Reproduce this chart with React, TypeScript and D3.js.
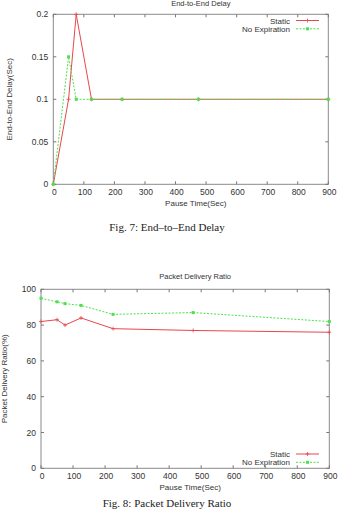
import React, { useEffect, useRef } from 'react'
import * as d3 from 'd3'

// pause time (sec) for each run
const delayX = [0, 50, 75, 125, 225, 475, 900]
const delayStatic = [0, 0.1, 0.2, 0.1, 0.1, 0.1, 0.1]
const delayNoExp = [0, 0.15, 0.1, 0.1, 0.1, 0.1, 0.1]
const delayTicks = [0, 0.05, 0.1, 0.15, 0.2]

const pdrX = [0, 50, 75, 125, 225, 475, 900]
const pdrStatic = [82, 83, 80, 84, 78, 77, 76]
const pdrNoExp = [95, 93, 92, 91, 86, 87, 82]
const pdrTicks = [0, 20, 40, 60, 80, 100]

const xTicks = [0, 100, 200, 300, 400, 500, 600, 700, 800, 900]
const seriesNames = ['Static', 'No Expiration']

const RED = '#e8474c'
const GREEN = '#4ee04e'
const FONT = 'Liberation Sans, Arial, sans-serif'

function drawChart(svg, o) {
  const g = svg.append('g')
  const x = d3.scaleLinear().domain([0, 900]).range([o.left, o.right])
  const y = d3.scaleLinear().domain(o.yDomain).range([o.bottom, o.top])

  g.append('rect').attr('x', o.left).attr('y', o.top)
    .attr('width', o.right - o.left).attr('height', o.bottom - o.top)
    .attr('fill', 'none').attr('stroke', '#8a8a8a').attr('stroke-width', 1)

  // ticks inside, mirrored
  xTicks.forEach(t => {
    g.append('line').attr('x1', x(t)).attr('x2', x(t)).attr('y1', o.bottom).attr('y2', o.bottom - 3).attr('stroke', '#777')
    g.append('line').attr('x1', x(t)).attr('x2', x(t)).attr('y1', o.top).attr('y2', o.top + 3).attr('stroke', '#777')
    g.append('text').attr('x', x(t) + 1).attr('y', o.bottom + 11).attr('text-anchor', 'middle')
      .attr('font-size', 8.5).attr('font-family', FONT).attr('fill', '#333').text(t)
  })
  o.yTicks.forEach(t => {
    g.append('line').attr('x1', o.left).attr('x2', o.left + 3).attr('y1', y(t)).attr('y2', y(t)).attr('stroke', '#777')
    g.append('line').attr('x1', o.right).attr('x2', o.right - 3).attr('y1', y(t)).attr('y2', y(t)).attr('stroke', '#777')
    g.append('text').attr('x', o.left - 5).attr('y', y(t) + 3).attr('text-anchor', 'end')
      .attr('font-size', 8.5).attr('font-family', FONT).attr('fill', '#333').text(t)
  })

  g.append('text').attr('x', (o.left + o.right) / 2 + 10).attr('y', o.titleY).attr('text-anchor', 'middle')
    .attr('font-size', 7.5).attr('font-family', FONT).attr('fill', '#333').text(o.title)
  g.append('text').attr('x', (o.left + o.right) / 2 + 5).attr('y', o.bottom + 22).attr('text-anchor', 'middle')
    .attr('font-size', 8).attr('font-family', FONT).attr('fill', '#333').text('Pause Time(Sec)')
  g.append('text').attr('transform', `translate(${o.yLabelX},${(o.top + o.bottom) / 2}) rotate(-90)`)
    .attr('text-anchor', 'middle').attr('font-size', 8).attr('font-family', FONT).attr('fill', '#333').text(o.yLabel)

  const line = d3.line().x(d => x(d[0])).y(d => y(d[1]))
  const s1 = o.xs.map((v, i) => [v, o.a[i]])
  const s2 = o.xs.map((v, i) => [v, o.b[i]])

  g.append('path').attr('d', line(s1)).attr('fill', 'none').attr('stroke', RED).attr('stroke-width', 1)
  s1.forEach(d => {
    g.append('path').attr('d', `M${x(d[0]) - 2},${y(d[1])}h4M${x(d[0])},${y(d[1]) - 2}v4`).attr('stroke', RED).attr('stroke-width', 0.8)
  })
  g.append('path').attr('d', line(s2)).attr('fill', 'none').attr('stroke', GREEN).attr('stroke-width', 1).attr('stroke-dasharray', o.overlap ? null : '2,1.5')
  s2.forEach(d => {
    g.append('rect').attr('x', x(d[0]) - 1.5).attr('y', y(d[1]) - 1.5).attr('width', 3).attr('height', 3).attr('fill', GREEN)
  })

  // legend
  seriesNames.forEach((n, i) => {
    const ly = o.legendY + i * 8.3
    g.append('text').attr('x', 290).attr('y', ly + 3).attr('text-anchor', 'end')
      .attr('font-size', 8).attr('font-family', FONT).attr('fill', '#333').text(n)
    g.append('line').attr('x1', 296).attr('x2', 319).attr('y1', ly).attr('y2', ly)
      .attr('stroke', i === 0 ? RED : GREEN).attr('stroke-dasharray', i === 0 ? null : '2,1.5')
    if (i === 0) g.append('path').attr('d', `M305.5,${ly}h4M307.5,${ly - 2}v4`).attr('stroke', RED).attr('stroke-width', 0.8)
    else g.append('rect').attr('x', 306).attr('y', ly - 1.5).attr('width', 3).attr('height', 3).attr('fill', GREEN)
  })

  svg.append('text').attr('x', o.captionX).attr('y', o.captionY).attr('text-anchor', 'middle')
    .attr('font-size', 11).attr('font-family', 'Liberation Serif, Times New Roman, serif').attr('fill', '#222').text(o.caption)
}

export default function App() {
  const ref = useRef(null)

  useEffect(() => {
    const el = ref.current
    if (!el) return
    const svg = d3.select(el)
    svg.selectAll('*').remove()

    drawChart(svg, {
      left: 53.3, right: 328.3, top: 14.3, bottom: 184.3,
      yDomain: [0, 0.2], yTicks: delayTicks,
      xs: delayX, a: delayStatic, b: delayNoExp,
      title: 'End-to-End Delay', titleY: 6,
      yLabel: 'End-to-End Delay(Sec)', yLabelX: 12,
      legendY: 20.5, overlap: false,
      caption: 'Fig. 7: End–to–End Delay', captionX: 167, captionY: 231,
    })
    drawChart(svg, {
      left: 41, right: 329.3, top: 289.3, bottom: 468.3,
      yDomain: [0, 100], yTicks: pdrTicks,
      xs: pdrX, a: pdrStatic, b: pdrNoExp,
      title: 'Packet Delivery Ratio', titleY: 279,
      yLabel: 'Packet Delivery Ratio(%)', yLabelX: 7,
      legendY: 454, overlap: false,
      caption: 'Fig. 8: Packet Delivery Ratio', captionX: 167, captionY: 507,
    })
  }, [])

  return (
    <svg ref={ref} width={342} height={510}
      style={{ position: 'absolute', left: 0, top: 0, background: '#fff', display: 'block' }} />
  )
}
